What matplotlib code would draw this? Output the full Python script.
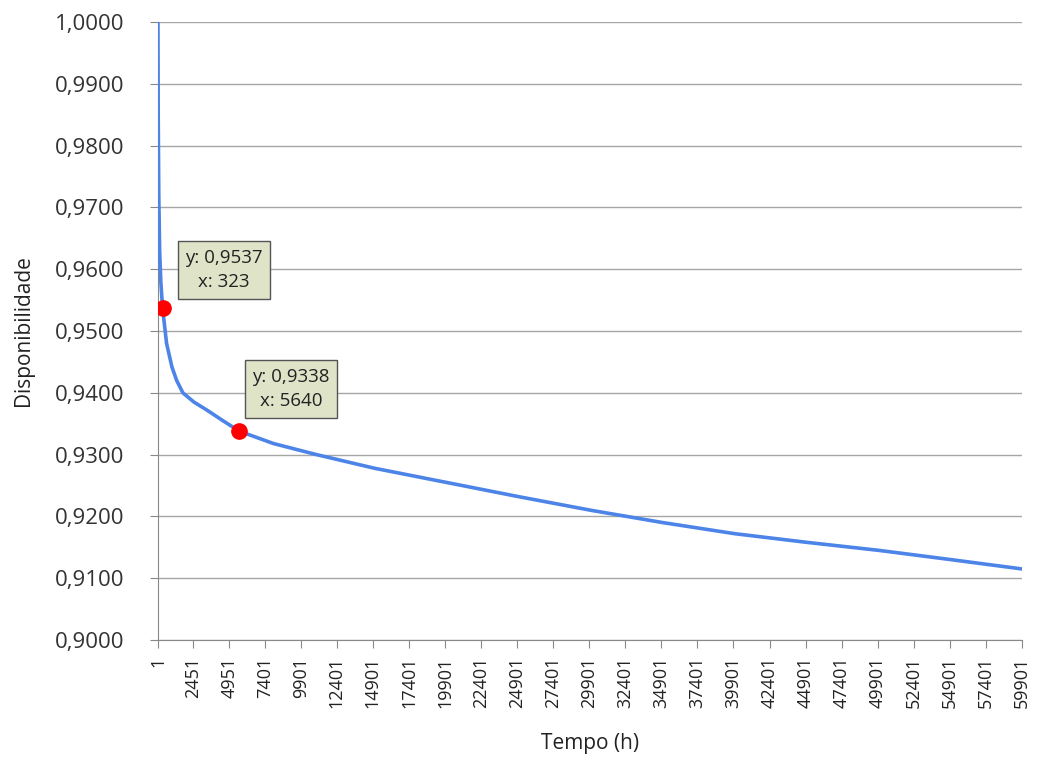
import numpy as np
import matplotlib
matplotlib.use('Agg')
import matplotlib.pyplot as plt
from matplotlib.ticker import FuncFormatter

plt.rcParams['font.family'] = ['Open Sans', 'DejaVu Sans']

# disponibilidade ao longo do tempo
tempo = [1, 20, 60, 120, 200, 323, 600, 970, 1300, 1730, 2500, 3400, 4500, 5640,
         8000, 11000, 15000, 20000, 25000, 30000, 35000, 40000, 45000, 50000,
         55000, 59901]
disp = [1.0000, 0.9850, 0.9720, 0.9630, 0.9580, 0.9537, 0.9480, 0.9442, 0.9420,
        0.9400, 0.9385, 0.9372, 0.9355, 0.9338, 0.9318, 0.9300, 0.9278, 0.9255,
        0.9232, 0.9210, 0.9190, 0.9172, 0.9158, 0.9145, 0.9130, 0.9115]

# pontos destacados
pt_x = [323, 5640]
pt_y = [0.9537, 0.9338]

xticks = [1, 2451, 4951, 7401, 9901, 12401, 14901, 17401, 19901, 22401, 24901,
          27401, 29901, 32401, 34901, 37401, 39901, 42401, 44901, 47401, 49901,
          52401, 54901, 57401, 59901]
yticks = [0.90, 0.91, 0.92, 0.93, 0.94, 0.95, 0.96, 0.97, 0.98, 0.99, 1.00]

fig = plt.figure(figsize=(10.39, 7.61), dpi=100)
ax = fig.add_axes([0.152, 0.159, 0.8316, 0.812])

ax.plot(tempo, disp, color='#4C84E8', lw=2.6, zorder=3)
ax.plot(pt_x, pt_y, 'o', color='#FF0000', ms=11, zorder=4)

box = dict(boxstyle='square,pad=0.4', fc='#DFE3C8', ec='#555555', lw=1)
for x, y, tx, ty in [(pt_x[0], pt_y[0], 4577, 0.9599), (pt_x[1], pt_y[1], 9223, 0.9406)]:
    txt = 'y: ' + ('%.4f' % y).replace('.', ',') + '\nx: ' + str(x)
    ax.text(tx, ty, txt, fontsize=13.5, ha='center', va='center', color='#222222',
            bbox=box, zorder=5, linespacing=1.45, multialignment='center')

ax.set_xlim(1, 59901)
ax.set_ylim(0.9, 1.0)
ax.set_xticks(xticks)
ax.set_xticklabels([str(v) for v in xticks], rotation=90, fontsize=13, color='#222222')
ax.set_yticks(yticks)
ax.yaxis.set_major_formatter(FuncFormatter(lambda v, p: ('%.4f' % v).replace('.', ',')))
ax.tick_params(axis='y', labelsize=16, colors='#333333', length=6, pad=18, color='#888888')
ax.tick_params(axis='x', length=6, pad=6, color='#888888')

ax.yaxis.grid(True, color='#A6A6A6', lw=1)
ax.set_axisbelow(True)
for s in ['top', 'right']:
    ax.spines[s].set_visible(False)
for s in ['left', 'bottom']:
    ax.spines[s].set_color('#888888')

ax.set_xlabel('Tempo (h)', fontsize=15, color='#222222')
ax.set_ylabel('Disponibilidade', fontsize=15, color='#222222')
ax.xaxis.set_label_coords(0.5, -0.15)
ax.yaxis.set_label_coords(-0.143, 0.5)

fig.savefig('out.png', dpi=100)
